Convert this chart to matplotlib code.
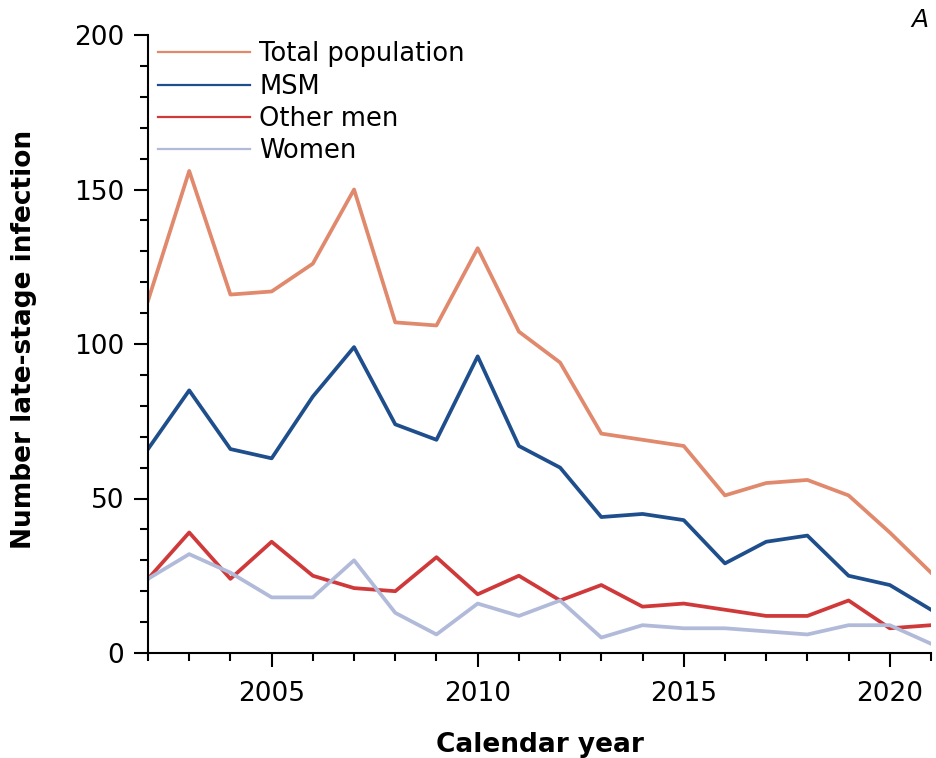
import matplotlib.pyplot as plt
from matplotlib.lines import Line2D
from matplotlib.ticker import MultipleLocator

years = list(range(2002, 2022))
total = [114, 156, 116, 117, 126, 150, 107, 106, 131, 104, 94, 71, 69, 67, 51, 55, 56, 51, 39, 26]
msm = [66, 85, 66, 63, 83, 99, 74, 69, 96, 67, 60, 44, 45, 43, 29, 36, 38, 25, 22, 14]
other_men = [24, 39, 24, 36, 25, 21, 20, 31, 19, 25, 17, 22, 15, 16, 14, 12, 12, 17, 8, 9]
women = [24, 32, 26, 18, 18, 30, 13, 6, 16, 12, 17, 5, 9, 8, 8, 7, 6, 9, 9, 3]

labels = ["Total population", "MSM", "Other men", "Women"]
colors = ["#e0896c", "#1f4e8c", "#d0393a", "#b1bad9"]

fig = plt.figure(figsize=(9.36, 7.58), dpi=100)
ax = fig.add_axes([148 / 936, 105 / 758, (931 - 148) / 936, (653 - 35) / 758])

for vals, c in zip([total, msm, other_men, women], colors):
    ax.plot(years, vals, color=c, linewidth=2.7)

ax.set_xlim(2002, 2021)
ax.set_ylim(0, 200)
ax.set_xticks([2005, 2010, 2015, 2020])
ax.xaxis.set_minor_locator(MultipleLocator(1))
ax.set_yticks([0, 50, 100, 150, 200])
ax.yaxis.set_minor_locator(MultipleLocator(10))
ax.tick_params(axis="both", which="major", labelsize=19, length=10, width=1.5, colors="black")
ax.tick_params(axis="both", which="minor", length=5.5, width=1.5)
ax.tick_params(axis="x", which="major", pad=10.5)
ax.tick_params(axis="y", which="major", pad=7)

for side in ["top", "right"]:
    ax.spines[side].set_visible(False)
for side in ["left", "bottom"]:
    ax.spines[side].set_linewidth(1.5)

ax.set_xlabel("Calendar year", fontsize=19, fontweight="bold")
ax.set_ylabel("Number late-stage infection", fontsize=19, fontweight="bold")
ax.xaxis.set_label_coords(0.5, -0.128)
ax.yaxis.set_label_coords(-0.1418, 0.508)

handles = [Line2D([0], [0], color=c, linewidth=1.6) for c in colors]
ax.legend(handles, labels, loc="upper left", bbox_to_anchor=(0.0128, 0.99), frameon=False,
          fontsize=18.5, handlelength=3.58, handletextpad=0.35, labelspacing=0.25,
          borderpad=0, borderaxespad=0)

fig.text(0.992, 0.99, "A", fontsize=18, fontstyle="italic", ha="right", va="top")

fig.savefig("out.png", dpi=100)
